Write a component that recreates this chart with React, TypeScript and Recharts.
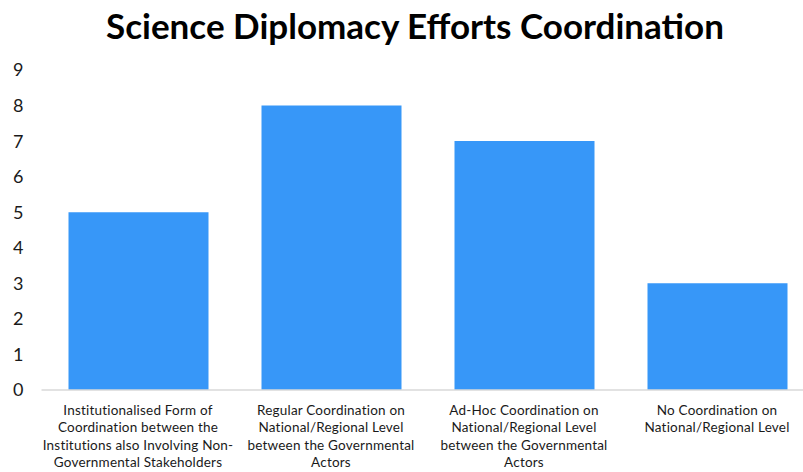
import React from "react";
import { BarChart, Bar, XAxis, YAxis } from "recharts";

const categories = [
  "Institutionalised Form of Coordination between the Institutions also Involving Non-Governmental Stakeholders",
  "Regular Coordination on National/Regional Level between the Governmental Actors",
  "Ad-Hoc Coordination on National/Regional Level between the Governmental Actors",
  "No Coordination on National/Regional Level",
];
const values = [5, 8, 7, 3];
const tickLabelLines = [
  ["Institutionalised Form of", "Coordination between the", "Institutions also Involving Non-", "Governmental Stakeholders"],
  ["Regular Coordination on", "National/Regional Level", "between the Governmental", "Actors"],
  ["Ad-Hoc Coordination on", "National/Regional Level", "between the Governmental", "Actors"],
  ["No Coordination on", "National/Regional Level"],
];
const yTicks = [0, 1, 2, 3, 4, 5, 6, 7, 8, 9];
const title = "Science Diplomacy Efforts Coordination";

const data = categories.map((c, i) => ({ name: c, value: values[i], idx: i }));

const XTick = (props: any) => {
  const { x, y, index } = props;
  const lines = tickLabelLines[index] || [];
  return (
    <g>
      {lines.map((l, i) => (
        <text
          key={i}
          x={x}
          y={y + 16.5 + i * 17.5}
          textAnchor="middle"
          fontSize={13.5}
          letterSpacing={0.2}
          fontFamily="Lato, sans-serif"
          fill="#1a1a1a"
        >
          {l}
        </text>
      ))}
    </g>
  );
};

export default function App() {
  return (
    <div
      style={{
        position: "absolute",
        left: 0,
        top: 0,
        width: 803,
        height: 472,
        overflow: "hidden",
        background: "#fff",
      }}
    >
      <div
        style={{
          position: "absolute",
          left: 0,
          top: 0,
          width: 830,
          fontFamily: "Lato, sans-serif",
          fontWeight: 700,
          fontSize: 35,
          lineHeight: "50px",
          color: "#000",
        }}
      >
        <span style={{ position: "absolute", left: 415, transform: "translateX(-50%)", whiteSpace: "nowrap" }}>{title}</span>
      </div>
      <div style={{ position: "absolute", left: 0, top: 0 }}>
        <BarChart
          width={820}
          height={472}
          data={data}
          margin={{ top: 70, right: 6.5, left: 0, bottom: 0 }}
          barCategoryGap={0}
        >
          <XAxis
            dataKey="name"
            tick={<XTick />}
            tickLine={false}
            axisLine={{ stroke: "#d9d9d9", strokeWidth: 1.5 }}
            interval={0}
            height={82}
          />
          <YAxis
            domain={[0, 9]}
            ticks={yTicks}
            width={41.5}
            tickLine={false}
            axisLine={false}
            tickMargin={12}
            tick={{ fontSize: 18, fill: "#1a1a1a", fontFamily: "Lato, sans-serif" }}
            interval={0}
          />
          <Bar dataKey="value" fill="#3797F8" barSize={140} isAnimationActive={false} />
        </BarChart>
      </div>
    </div>
  );
}
